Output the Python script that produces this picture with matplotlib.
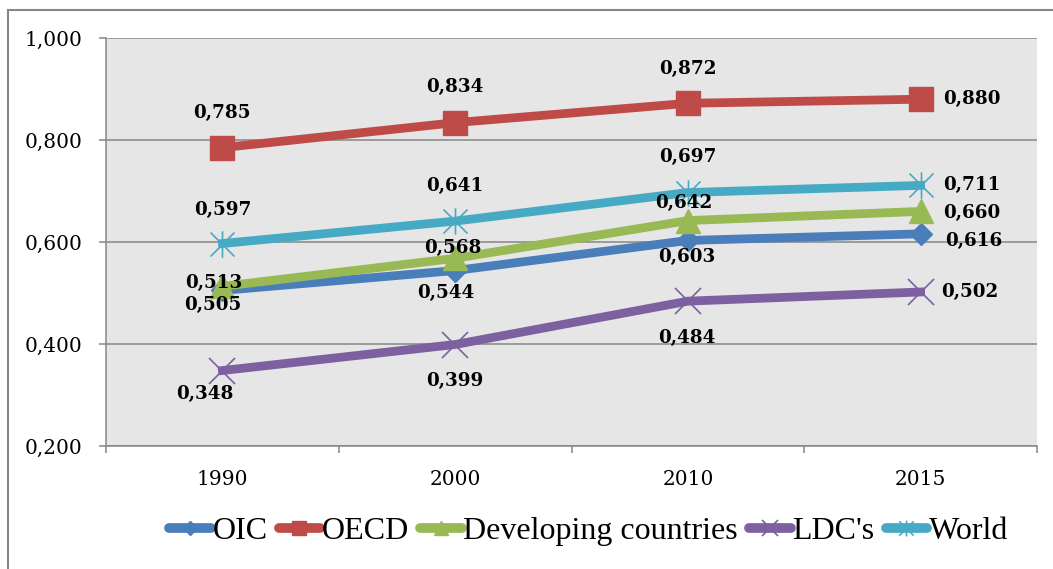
import numpy as np
import matplotlib.pyplot as plt
from matplotlib.path import Path
from matplotlib.lines import Line2D
from matplotlib.patches import Rectangle

years = ['1990', '2000', '2010', '2015']
oic = [0.505, 0.544, 0.603, 0.616]
oecd = [0.785, 0.834, 0.872, 0.880]
developing = [0.513, 0.568, 0.642, 0.660]
ldc = [0.348, 0.399, 0.484, 0.502]
world = [0.597, 0.641, 0.697, 0.711]
names = ['OIC', 'OECD', 'Developing countries', "LDC's", 'World']

# star marker like excel: x with vertical bar
star = Path([(-0.5, -0.5), (0.5, 0.5), (-0.5, 0.5), (0.5, -0.5), (0, -0.55), (0, 0.55)],
            [Path.MOVETO, Path.LINETO, Path.MOVETO, Path.LINETO, Path.MOVETO, Path.LINETO])

series = [
    (oic, '#4a7ebb', 'D', 11.5, 1.0),
    (oecd, '#be4b48', 's', 17.0, 1.0),
    (developing, '#98b954', '^', 17.0, 1.0),
    (ldc, '#7d60a0', 'x', 19.0, 1.2),
    (world, '#46aac5', star, 19.0, 1.2),
]

# label offsets in pixels (dx, dy), right-hand ones are left aligned
offsets = [
    [(-10, -15), (-9, -22), (-1, -17), (25, -7)],
    [(0, 35), (0, 36), (0, 34), (23, 0)],
    [(-9, 3), (-2, 10), (-4, 18), (23, -2)],
    [(-18, -23), (0, -36), (-1, -37), (20, 0)],
    [(0, 34), (0, 35), (0, 36), (23, 0)],
]

fig = plt.figure(figsize=(10.53, 5.69), dpi=100)
ax = fig.add_axes([106/1053, 1-446/569, (1037-106)/1053, (446-38)/569])
ax.set_facecolor('#e6e6e6')
gray = '#868686'
x = np.arange(len(years))

for k, (vals, col, mk, ms, mew) in enumerate(series):
    ax.plot(x, vals, color=col, lw=6.3, marker=mk, ms=ms, mew=mew,
            mec=col, mfc=col, solid_joinstyle='round', zorder=3+k)
    for i, v in enumerate(vals):
        dx, dy = offsets[k][i]
        ha = 'left' if i == len(vals)-1 else 'center'
        ax.annotate(('%.3f' % v).replace('.', ','), (x[i], v), xytext=(dx, dy),
                    textcoords='offset pixels', ha=ha, va='center',
                    fontsize=13.2, fontweight='bold', family='DejaVu Serif', zorder=10)

ax.set_xlim(-0.5, 3.5)
ax.set_ylim(0.2, 1.0)
ax.set_yticks([0.2, 0.4, 0.6, 0.8, 1.0])
ax.set_yticklabels([('%.3f' % t).replace('.', ',') for t in ax.get_yticks()],
                   family='DejaVu Serif', fontsize=14.5)
ax.set_xticks(x)
ax.set_xticklabels(years, family='DejaVu Serif', fontsize=14.5)
ax.set_xticks([-0.5, 0.5, 1.5, 2.5, 3.5], minor=True)
ax.tick_params(axis='x', which='major', length=0, pad=17)
ax.tick_params(axis='x', which='minor', length=5, color=gray, width=1.1)
ax.tick_params(axis='y', length=5, color=gray, width=1.1, pad=12)
ax.grid(axis='y', color=gray, lw=1.1)
ax.set_axisbelow(True)
for s in ['top', 'right']:
    ax.spines[s].set_visible(False)
for s in ['left', 'bottom']:
    ax.spines[s].set_color(gray)
    ax.spines[s].set_linewidth(1.1)

handles = [Line2D([], [], color=c, lw=7, marker=m, ms=ms*0.6, mew=mew, mec=c,
                  solid_capstyle='round') for (_, c, m, ms, mew) in series]
fig.legend(handles, names, loc='center', bbox_to_anchor=(0.559, 1-531/569), ncol=5,
           frameon=False, handlelength=1.3, handletextpad=0.05, columnspacing=0.35,
           prop={'family': 'Liberation Serif', 'size': 23})

fig.patches.append(Rectangle((8/1053, -0.1), 1.2, 1-10/569+0.1, transform=fig.transFigure,
                             fill=False, edgecolor=gray, lw=1.5))

fig.savefig('out.png', dpi=100)
